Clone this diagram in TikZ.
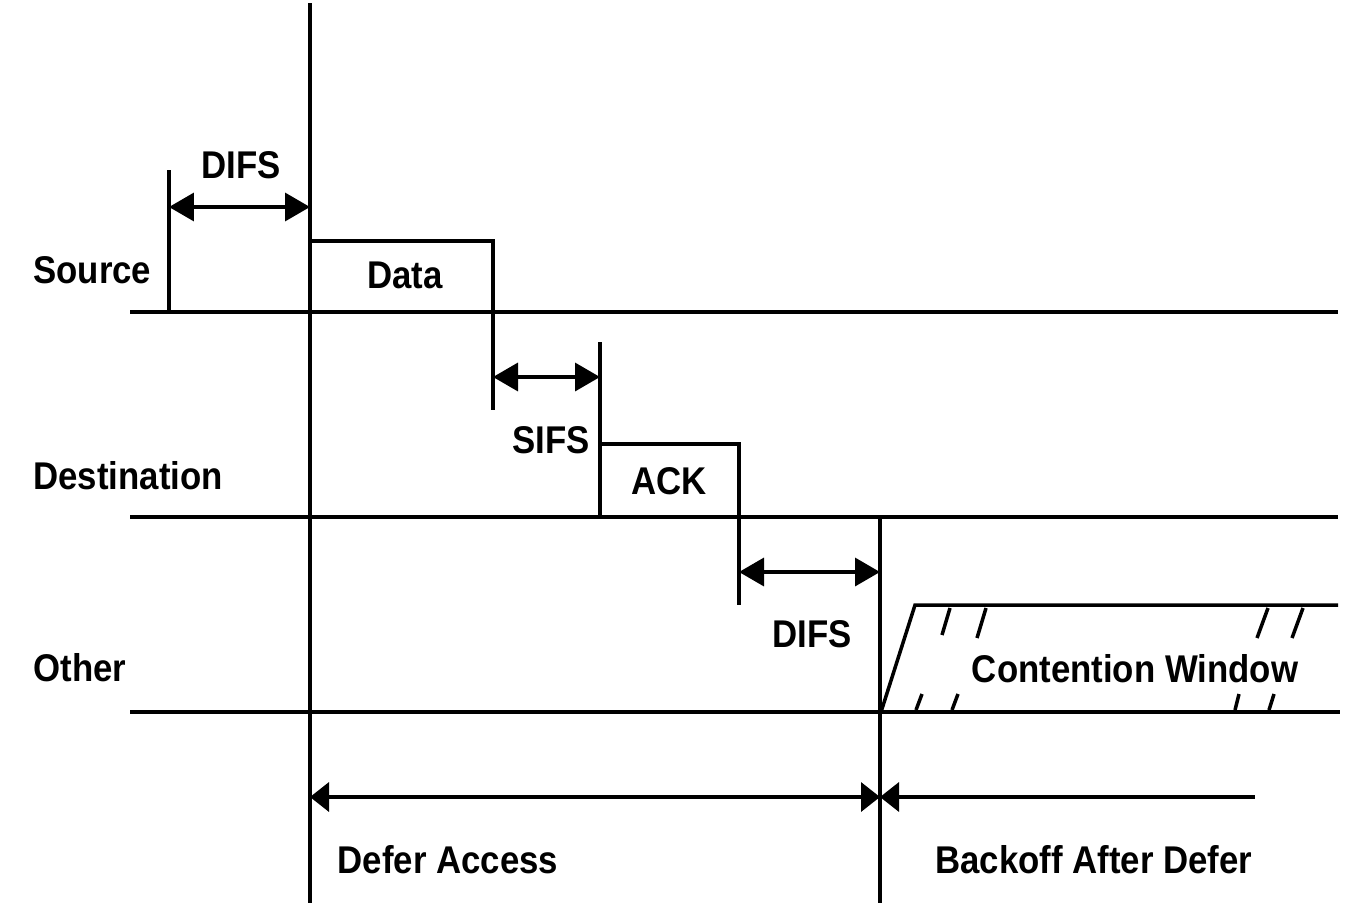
\documentclass[tikz,border=0pt]{standalone}
\usepackage{fontspec}
\setmainfont{Liberation Sans}[FakeStretch=0.9]
\usetikzlibrary{arrows.meta}
\begin{document}
\begin{tikzpicture}[x=0.02cm,y=-0.02cm,
  lbl/.style={font=\fontsize{22}{24}\selectfont\bfseries, inner sep=0pt},
  ln/.style={line width=2pt},
  bx/.style={line width=1.9pt},
  hash/.style={line width=2pt},
  bigtip/.tip={Triangle[length=0.5cm,width=0.56cm]},
  smalltip/.tip={Triangle[length=0.38cm,width=0.58cm]},
  dim/.style={line width=2pt, bigtip-bigtip},
  span/.style={line width=2pt, smalltip-smalltip},
  halfspan/.style={line width=2pt, smalltip-}]
\useasboundingbox (0,0) rectangle (1358,906);
% coordinates
\coordinate (srcL) at (130,312);  \coordinate (srcR) at (1338,312);
\coordinate (dstL) at (130,517);  \coordinate (dstR) at (1338,517);
\coordinate (othL) at (130,712);  \coordinate (othR) at (1340,712);
\coordinate (mainT) at (310,3);   \coordinate (mainB) at (310,903);
\coordinate (secT) at (880,518);  \coordinate (secB) at (880,903);
\coordinate (d1T) at (169,170);   \coordinate (d1B) at (169,312);
\coordinate (d1a) at (169,207);   \coordinate (d1b) at (310,207);
\coordinate (dataL) at (310,241); \coordinate (dataR) at (493,241); \coordinate (dataB) at (493,410);
\coordinate (sifT) at (600,342);  \coordinate (sifB) at (600,517);
\coordinate (sa) at (493,377);    \coordinate (sb) at (600,377);
\coordinate (ackL) at (600,444);  \coordinate (ackR) at (739,444); \coordinate (ackB) at (739,605);
\coordinate (d2a) at (739,572);   \coordinate (d2b) at (880,572);
\coordinate (cwS) at (881,712);   \coordinate (cwT) at (915,605); \coordinate (cwR) at (1338,605);
\coordinate (defA) at (310,797);  \coordinate (defB) at (880,797);
\coordinate (bofA) at (880,797);  \coordinate (bofB) at (1255,797);
% lines
\draw[ln] (srcL) -- (srcR);
\draw[ln] (dstL) -- (dstR);
\draw[ln] (othL) -- (othR);
\draw[ln] (mainT) -- (mainB);
\draw[ln] (secT) -- (secB);
\draw[ln] (d1T) -- (d1B);
\draw[dim] (d1a) -- (d1b);
\draw[bx] (dataL) -- (dataR) -- (dataB);
\draw[ln] (sifT) -- (sifB);
\draw[dim] (sa) -- (sb);
\draw[bx] (ackL) -- (ackR) -- (ackB);
\draw[dim] (d2a) -- (d2b);
\draw[ln] (cwS) -- (cwT) -- (cwR);
% hash marks
\draw[hash] (950,608) -- (942,635);
\draw[hash] (986,608) -- (977,638);
\draw[hash] (1268,608) -- (1257,638);
\draw[hash] (1303,608) -- (1292,638);
\draw[hash] (922,694) -- (916,710);
\draw[hash] (958,694) -- (952,710);
\draw[hash] (1239,694) -- (1235,710);
\draw[hash] (1274,694) -- (1269,710);
% bottom spans
\draw[span] (defA) -- (defB);
\draw[halfspan] (bofA) -- (bofB);
% labels
\node[lbl, anchor=west] (source) at (33,270) {Source};
\node[lbl, anchor=west] (dest) at (33,476) {Destination};
\node[lbl, anchor=west] (other) at (33,668) {Other};
\node[lbl] (difs1) at (241,165) {DIFS};
\node[lbl] (data) at (405,275) {Data};
\node[lbl] (sifs) at (551,440) {SIFS};
\node[lbl] (ack) at (669,481) {ACK};
\node[lbl] (difs2) at (812,634) {DIFS};
\node[lbl] (cw) at (1135,669) {Contention Window};
\node[lbl] (defer) at (448,860) {Defer Access};
\node[lbl] (backoff) at (1094,860) {Backoff After Defer};
\end{tikzpicture}
\end{document}
